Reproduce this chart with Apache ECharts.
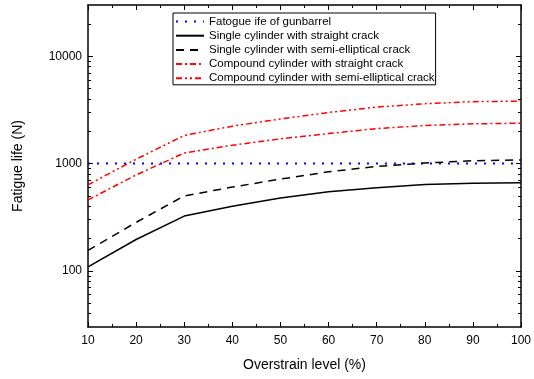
<!DOCTYPE html>
<html>
<head>
<meta charset="utf-8">
<script src="https://cdn.jsdelivr.net/npm/echarts@6/dist/echarts.min.js"></script>
<style>html,body{margin:0;padding:0;background:#fff}#c{width:534px;height:379px}</style>
</head>
<body>
<div id="c"></div>
<script>
var overstrain = [10, 20, 30, 40, 50, 60, 70, 80, 90, 100];
var gunbarrel = [1000, 1000, 1000, 1000, 1000, 1000, 1000, 1000, 1000, 1000];
var singleStraight = [109, 196, 324, 400, 478, 545, 595, 637, 656, 661];
var singleSemi = [155, 283, 499, 604, 716, 838, 940, 1012, 1062, 1079];
var compoundStraight = [458, 783, 1254, 1480, 1700, 1901, 2118, 2260, 2345, 2376];
var compoundSemi = [633, 1097, 1828, 2230, 2600, 2991, 3356, 3612, 3770, 3818];
var seriesNames = [
  'Fatogue ife of gunbarrel',
  'Single cylinder with straight crack',
  'Single cylinder with semi-elliptical crack',
  'Compound cylinder with straight crack',
  'Compound cylinder with semi-elliptical crack'
];
var yMajorTicks = [100, 1000, 10000];
var yMinorTicks = [40, 50, 60, 70, 80, 90, 200, 300, 400, 500, 600, 700, 800, 900,
  2000, 3000, 4000, 5000, 6000, 7000, 8000, 9000, 20000];

function pairs(vals) { return overstrain.map(function (x, i) { return [x, vals[i]]; }); }

var FONT = '"Liberation Sans", Arial, sans-serif';
var axisLine = { show: true, lineStyle: { color: '#000', width: 1.5 } };

function xAx(pos, main) {
  return {
    type: 'value', position: pos, min: 10, max: 100, interval: 10,
    axisLine: axisLine,
    axisTick: { show: true, inside: true, length: 5, lineStyle: { color: '#000', width: 1 } },
    minorTick: { show: true, splitNumber: 2, length: 3, lineStyle: { color: '#000', width: 1 } },
    axisLabel: main ? { show: true, margin: 8, color: '#000', fontSize: 12, fontFamily: FONT } : { show: false },
    splitLine: { show: false },
    name: main ? 'Overstrain level (%)' : '',
    nameLocation: 'middle', nameGap: 31,
    nameTextStyle: { color: '#000', fontSize: 14, fontFamily: FONT }
  };
}
function yAx(pos, main, minor) {
  return {
    type: 'log', logBase: 10, position: pos, min: 30, max: 30000,
    axisLine: minor ? { show: false } : axisLine,
    axisTick: { show: true, inside: true, length: minor ? 3 : 5,
      customValues: minor ? yMinorTicks : yMajorTicks,
      lineStyle: { color: '#000', width: 1 } },
    axisLabel: main ? { show: true, margin: 6, color: '#000', fontSize: 12, fontFamily: FONT,
      customValues: yMajorTicks, formatter: function (v) { return String(Math.round(v)); } } : { show: false },
    splitLine: { show: false },
    minorTick: { show: false },
    name: main ? 'Fatigue life (N)' : '',
    nameLocation: 'middle', nameGap: 63,
    nameTextStyle: { color: '#000', fontSize: 14, fontFamily: FONT }
  };
}

var chart = echarts.init(document.getElementById('c'), null, { renderer: 'canvas' });
chart.setOption({
  animation: false,
  backgroundColor: '#fff',
  grid: { left: 88, right: 11, top: 5, bottom: 52, containLabel: false },
  xAxis: [xAx('bottom', true), xAx('top', false)],
  yAxis: [yAx('left', true, false), yAx('left', false, true), yAx('right', false, false), yAx('right', false, true)],
  legend: {
    orient: 'vertical', left: 173, top: 13,
    backgroundColor: '#fff', borderColor: '#000', borderWidth: 1, borderRadius: 0,
    padding: [2, 1, 0, 2], itemWidth: 28, itemHeight: 10, itemGap: 1.2,
    itemStyle: { color: 'transparent', borderWidth: 0, opacity: 0 },
    textStyle: { color: '#000', fontSize: 11.5, fontFamily: FONT, lineHeight: 13 },
    data: seriesNames
  },
  series: [
    { name: seriesNames[0], type: 'line', data: pairs(gunbarrel), symbol: 'none',
      lineStyle: { color: '#0000ff', width: 2, type: [2, 7] }, itemStyle: { color: '#0000ff' } },
    { name: seriesNames[1], type: 'line', data: pairs(singleStraight), symbol: 'none',
      lineStyle: { color: '#000', width: 1.5, type: 'solid' }, itemStyle: { color: '#000' } },
    { name: seriesNames[2], type: 'line', data: pairs(singleSemi), symbol: 'none',
      lineStyle: { color: '#000', width: 1.5, type: [8, 6] }, itemStyle: { color: '#000' } },
    { name: seriesNames[3], type: 'line', data: pairs(compoundStraight), symbol: 'none',
      lineStyle: { color: '#ff0000', width: 1.5, type: [6, 3, 2, 3] }, itemStyle: { color: '#ff0000' } },
    { name: seriesNames[4], type: 'line', data: pairs(compoundSemi), symbol: 'none',
      lineStyle: { color: '#ff0000', width: 1.5, type: [6, 3, 2, 3, 2, 3] }, itemStyle: { color: '#ff0000' } }
  ]
});
</script>
</body>
</html>
